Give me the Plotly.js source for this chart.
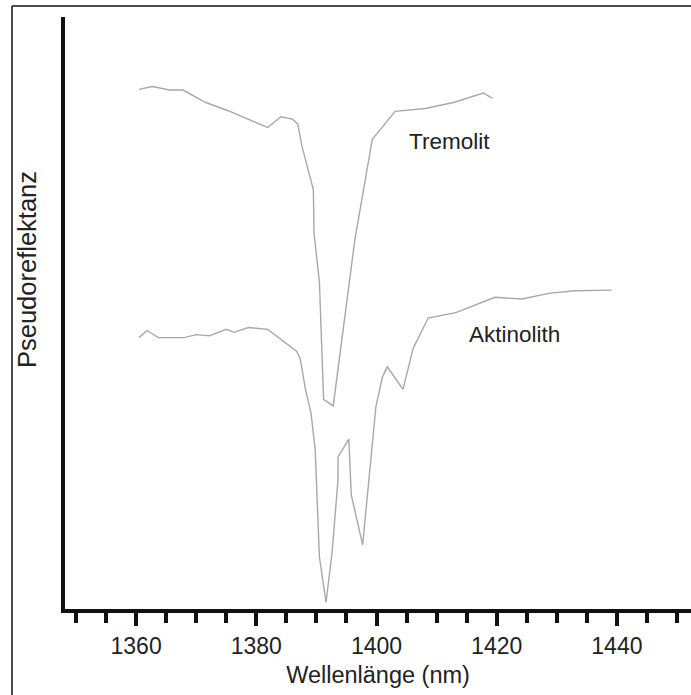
<!DOCTYPE html>
<html>
<head>
<meta charset="utf-8">
<script src="https://cdn.plot.ly/plotly-3.0.1.min.js"></script>
<style>
html,body{margin:0;padding:0;background:#fff;}
#chart{width:691px;height:695px;}
</style>
</head>
<body>
<div id="chart"></div>
<script>
// Wavelength (nm) and pseudo-reflectance (arbitrary units)
const tremolitX = [1360.5, 1362.7, 1365.6, 1367.8, 1371.6, 1375.1, 1381.9, 1384.1, 1386.0, 1386.9, 1387.6, 1389.5, 1389.6, 1390.5, 1391.2, 1392.8, 1396.4, 1399.3, 1403.1, 1408.1, 1412.8, 1417.8, 1419.3];
const tremolitY = [87.8, 88.3, 87.7, 87.7, 85.6, 84.3, 81.4, 83.2, 82.8, 82.0, 78.2, 70.9, 63.6, 55.4, 35.6, 34.5, 62.5, 79.4, 84.1, 84.6, 85.6, 87.2, 86.3];

const aktinolithX = [1360.5, 1361.8, 1363.7, 1368.0, 1370.0, 1372.2, 1375.0, 1376.3, 1378.7, 1381.9, 1386.7, 1387.3, 1388.2, 1389.1, 1389.8, 1390.5, 1391.6, 1392.6, 1393.6, 1393.6, 1395.4, 1395.8, 1397.7, 1399.9, 1401.0, 1401.8, 1404.4, 1406.1, 1408.6, 1413.2, 1419.7, 1424.2, 1428.9, 1433.0, 1439.1];
const aktinolithY = [46.0, 47.2, 46.0, 46.0, 46.5, 46.3, 47.4, 46.9, 47.7, 47.4, 43.7, 42.5, 37.2, 33.3, 27.1, 9.1, 1.4, 9.7, 22.1, 25.9, 28.9, 19.5, 11.1, 34.4, 39.4, 41.1, 37.3, 44.2, 49.3, 50.2, 52.8, 52.5, 53.5, 53.9, 54.0];

const majorTicks = [1360, 1380, 1400, 1420, 1440];
const majorLabels = ["1360", "1380", "1400", "1420", "1440"];
const seriesNames = ["Tremolit", "Aktinolith"];
const xTitle = "Wellenlänge (nm)";
const yTitle = "Pseudoreflektanz";

const FONT = "Liberation Sans, Arial, sans-serif";
const lineStyle = {color: "#a8a8a8", width: 1.4};

const traces = [
  {x: tremolitX, y: tremolitY, name: seriesNames[0], type: "scatter", mode: "lines", line: lineStyle, hoverinfo: "none"},
  {x: aktinolithX, y: aktinolithY, name: seriesNames[1], type: "scatter", mode: "lines", line: lineStyle, hoverinfo: "none"}
];

const layout = {
  width: 691, height: 695,
  margin: {l: 65, r: 0, t: 17, b: 86},
  paper_bgcolor: "#fff", plot_bgcolor: "#fff",
  showlegend: false,
  font: {family: FONT, size: 22, color: "#222"},
  xaxis: {
    range: [1348.17, 1452.33],
    tickmode: "array", tickvals: majorTicks, ticktext: majorLabels,
    ticks: "outside", ticklen: 13, tickwidth: 4, tickcolor: "#111",
    minor: {tickmode: "linear", tick0: 1350, dtick: 5, ticks: "outside", ticklen: 10, tickwidth: 4, tickcolor: "#111", showgrid: false},
    showline: true, linewidth: 4, linecolor: "#111",
    showgrid: false, zeroline: false,
    tickfont: {family: FONT, size: 23, color: "#222"},
    title: {text: xTitle, font: {family: FONT, size: 23.5, color: "#222"}, standoff: 10}
  },
  yaxis: {
    range: [0.3, 100],
    showticklabels: false, ticks: "",
    showline: true, linewidth: 4, linecolor: "#111",
    showgrid: false, zeroline: false
  },
  annotations: [
    {x: 1412.1, y: 79.1, xref: "x", yref: "y", text: seriesNames[0], showarrow: false, xanchor: "center", yanchor: "middle", font: {family: FONT, size: 22.5, color: "#222"}},
    {x: 1423.0, y: 46.6, xref: "x", yref: "y", text: seriesNames[1], showarrow: false, xanchor: "center", yanchor: "middle", font: {family: FONT, size: 22.5, color: "#222"}},
    {x: 0, y: (609 - 270) / 592, xref: "paper", yref: "paper", xshift: -38, text: yTitle, textangle: -90, showarrow: false, xanchor: "center", yanchor: "middle", font: {family: FONT, size: 25.5, color: "#222"}}
  ],
  shapes: [
    {type: "line", xref: "paper", yref: "paper", x0: -53/626, x1: -53/626, y0: -1.2, y1: (609 - 6)/592, line: {color: "#111", width: 1.5}},
    {type: "line", xref: "paper", yref: "paper", x0: -53/626, x1: 1.2, y0: (609 - 6)/592, y1: (609 - 6)/592, line: {color: "#111", width: 1.5}}
  ]
};

Plotly.newPlot("chart", traces, layout, {staticPlot: true, displayModeBar: false});
</script>
</body>
</html>
